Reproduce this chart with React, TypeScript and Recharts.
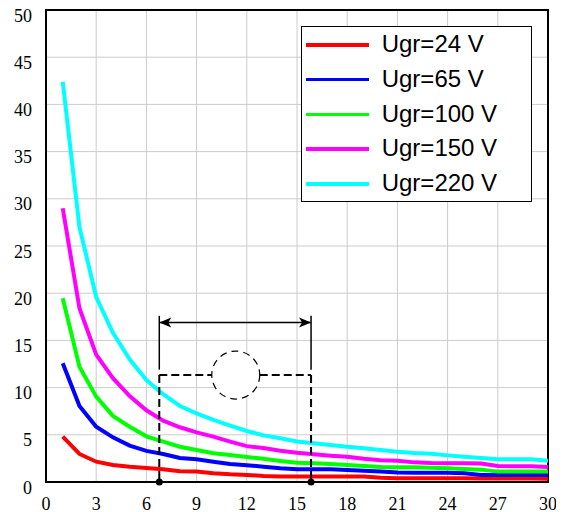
import React from 'react';
import {
  LineChart,
  Line,
  XAxis,
  YAxis,
  CartesianGrid,
  Legend,
  ReferenceLine,
  ReferenceDot,
  ReferenceArea,
} from 'recharts';

// x values (categories)
const xs = [1, 2, 3, 4, 5, 6, 7, 8, 9, 10, 11, 12, 13, 14, 15, 16, 17, 18, 19, 20, 21, 22, 23, 24, 25, 26, 27, 28, 29, 30];

// series values
const u24 = [4.8, 2.97, 2.15, 1.8, 1.62, 1.48, 1.34, 1.13, 1.1, 0.92, 0.81, 0.75, 0.64, 0.57, 0.57, 0.57, 0.57, 0.57, 0.57, 0.45, 0.4, 0.4, 0.4, 0.4, 0.4, 0.38, 0.38, 0.36, 0.36, 0.35];
const u65 = [12.57, 8.05, 5.86, 4.73, 3.85, 3.3, 2.97, 2.54, 2.4, 2.15, 1.9, 1.78, 1.62, 1.45, 1.34, 1.34, 1.34, 1.27, 1.2, 1.1, 1.0, 0.99, 0.99, 0.99, 0.92, 0.74, 0.74, 0.74, 0.74, 0.74];
const u100 = [19.46, 12.2, 9.04, 7.0, 5.86, 4.84, 4.27, 3.74, 3.39, 3.04, 2.86, 2.65, 2.47, 2.22, 2.05, 1.98, 1.9, 1.8, 1.7, 1.6, 1.55, 1.55, 1.52, 1.45, 1.38, 1.31, 1.1, 1.1, 1.1, 1.1];
const u150 = [29.0, 18.4, 13.5, 11.0, 9.1, 7.6, 6.5, 5.8, 5.26, 4.8, 4.27, 3.8, 3.6, 3.32, 3.1, 2.93, 2.79, 2.68, 2.47, 2.3, 2.26, 2.08, 2.01, 1.98, 1.98, 1.95, 1.7, 1.66, 1.66, 1.59];
const u220 = [42.4, 27.0, 19.6, 15.8, 13.0, 10.8, 9.3, 8.05, 7.27, 6.57, 5.97, 5.4, 4.94, 4.63, 4.3, 4.1, 3.92, 3.74, 3.57, 3.39, 3.21, 3.07, 3.0, 2.82, 2.68, 2.54, 2.4, 2.4, 2.4, 2.26];

// tick labels
const xTicks = [0, 3, 6, 9, 12, 15, 18, 21, 24, 27, 30];
const yTicks = [0, 5, 10, 15, 20, 25, 30, 35, 40, 45, 50];

// series names & colors
const seriesNames = ['Ugr=24 V', 'Ugr=65 V', 'Ugr=100 V', 'Ugr=150 V', 'Ugr=220 V'];
const seriesKeys = ['u24', 'u65', 'u100', 'u150', 'u220'];
const seriesColors = ['#ff0000', '#0000ff', '#00ff00', '#ff00ff', '#00ffff'];

// annotation (data coordinates)
const dimLeft = 6.77;
const dimRight = 15.84;
const dimArrowY = 16.9;
const dimTopY = 17.6;
const dimSolidEndY = 11.9;
const dashY = 11.33;
const circleX = 11.34;

const data = xs.map((x, i) => ({
  x,
  u24: u24[i],
  u65: u65[i],
  u100: u100[i],
  u150: u150[i],
  u220: u220[i],
}));

const serif = "'Liberation Serif', 'Times New Roman', Times, 'DejaVu Serif', serif";
const sans = "'Liberation Sans', Arial, sans-serif";

const tickTextStyle: React.CSSProperties = {
  fontFamily: serif,
  fontSize: '18px',
  fill: '#000',
};

const YTick = (props: any) => {
  const { x, y, payload } = props;
  return (
    <g transform={`translate(${x - 14},${y + 11.5})`}>
      <text x={0} y={0} textAnchor="end" style={tickTextStyle}>
        {String(payload.value)}
      </text>
    </g>
  );
};

const XTick = (props: any) => {
  const { x, y, payload } = props;
  return (
    <g transform={`translate(${x},${y + 27.5})`}>
      <text x={0} y={0} textAnchor="middle" style={tickTextStyle}>
        {String(payload.value)}
      </text>
    </g>
  );
};

const ArrowShape = (p: any) => {
  const { x1, y1, x2, y2 } = p;
  const L = 12;
  const H = 5;
  const back = 3;
  return (
    <g>
      <line x1={x1} y1={y1} x2={x2} y2={y2} stroke="#000" strokeWidth={1.5} />
      <polygon
        points={`${x1},${y1} ${x1 + L},${y1 - H} ${x1 + L - back},${y1} ${x1 + L},${y1 + H}`}
        fill="#000"
      />
      <polygon
        points={`${x2},${y2} ${x2 - L},${y2 - H} ${x2 - L + back},${y2} ${x2 - L},${y2 + H}`}
        fill="#000"
      />
    </g>
  );
};

const LegendContent = (props: any) => {
  const payload = [...(props.payload || [])].sort(
    (a: any, b: any) => seriesNames.indexOf(a.value) - seriesNames.indexOf(b.value)
  );
  return (
    <div
      style={{
        width: 231,
        height: 176,
        boxSizing: 'border-box',
        border: '1.5px solid #000',
        background: '#fff',
        position: 'relative',
      }}
    >
      {payload.map((entry: any, i: number) => (
        <div key={i} style={{ height: 34.75, position: 'relative' }}>
          <div
            style={{
              position: 'absolute',
              left: 4,
              width: 63,
              height: 3.5,
              background: entry.color,
              top: 16,
            }}
          />
          <span
            style={{
              position: 'absolute',
              left: 80,
              top: 3,
              fontFamily: sans,
              fontSize: 24,
              lineHeight: '28px',
              color: '#000',
              whiteSpace: 'nowrap',
            }}
          >
            {entry.value}
          </span>
        </div>
      ))}
    </div>
  );
};

export default function App() {
  return (
    <div style={{ margin: '-8px 0 0 -8px', width: 564, height: 512 }}>
      <LineChart
        width={564}
        height={512}
        data={data}
        margin={{ top: 10, right: 16, left: 8, bottom: 0 }}
      >
        <CartesianGrid stroke="#cccccc" strokeWidth={1} />
        <XAxis
          dataKey="x"
          type="number"
          domain={[0, 30]}
          ticks={xTicks}
          interval={0}
          height={30}
          tickSize={0}
          tickMargin={0}
          tickLine={false}
          axisLine={false}
          tick={XTick}
        />
        <YAxis
          type="number"
          domain={[0, 50]}
          ticks={yTicks}
          interval={0}
          width={38}
          tickSize={0}
          tickMargin={0}
          tickLine={false}
          axisLine={false}
          tick={YTick}
        />
        {seriesKeys.map((k, i) => (
          <Line
            key={k}
            type="linear"
            dataKey={k}
            name={seriesNames[i]}
            stroke={seriesColors[i]}
            strokeWidth={4}
            dot={false}
            activeDot={false}
            isAnimationActive={false}
          />
        ))}
        <ReferenceArea
          x1={0}
          x2={30}
          y1={0}
          y2={50}
          fill="none"
          fillOpacity={0}
          stroke="#000"
          strokeWidth={2}
        />
        {/* dimension annotation */}
        <ReferenceLine
          segment={[{ x: dimLeft, y: dimArrowY }, { x: dimRight, y: dimArrowY }]}
          stroke="#000"
          shape={ArrowShape}
        />
        <ReferenceLine
          segment={[{ x: dimLeft, y: dimTopY }, { x: dimLeft, y: dimSolidEndY }]}
          stroke="#000"
          strokeWidth={1.5}
        />
        <ReferenceLine
          segment={[{ x: dimRight, y: dimTopY }, { x: dimRight, y: dimSolidEndY }]}
          stroke="#000"
          strokeWidth={1.5}
        />
        <ReferenceLine
          segment={[{ x: dimLeft, y: dashY }, { x: dimLeft, y: 0 }]}
          stroke="#000"
          strokeWidth={2}
          strokeDasharray="8 4"
        />
        <ReferenceLine
          segment={[{ x: dimRight, y: dashY }, { x: dimRight, y: 0 }]}
          stroke="#000"
          strokeWidth={2}
          strokeDasharray="8 4"
        />
        <ReferenceLine
          segment={[{ x: dimLeft, y: dashY }, { x: circleX, y: dashY }]}
          stroke="#000"
          strokeWidth={2}
          strokeDasharray="8 4"
        />
        <ReferenceLine
          segment={[{ x: circleX, y: dashY }, { x: dimRight, y: dashY }]}
          stroke="#000"
          strokeWidth={2}
          strokeDasharray="8 4"
        />
        <ReferenceDot
          x={circleX}
          y={dashY}
          r={24}
          fill="#fff"
          stroke="#000"
          strokeWidth={1.2}
          strokeDasharray="7 5"
        />
        <ReferenceDot x={dimLeft} y={0} r={3.5} fill="#000" stroke="#000" strokeWidth={0} />
        <ReferenceDot x={dimRight} y={0} r={3.5} fill="#000" stroke="#000" strokeWidth={0} />
        <Legend
          layout="vertical"
          align="center"
          verticalAlign="middle"
          content={<LegendContent />}
          wrapperStyle={{ position: 'absolute', left: 300.7, top: 26, width: 231, height: 176 }}
        />
      </LineChart>
    </div>
  );
}
